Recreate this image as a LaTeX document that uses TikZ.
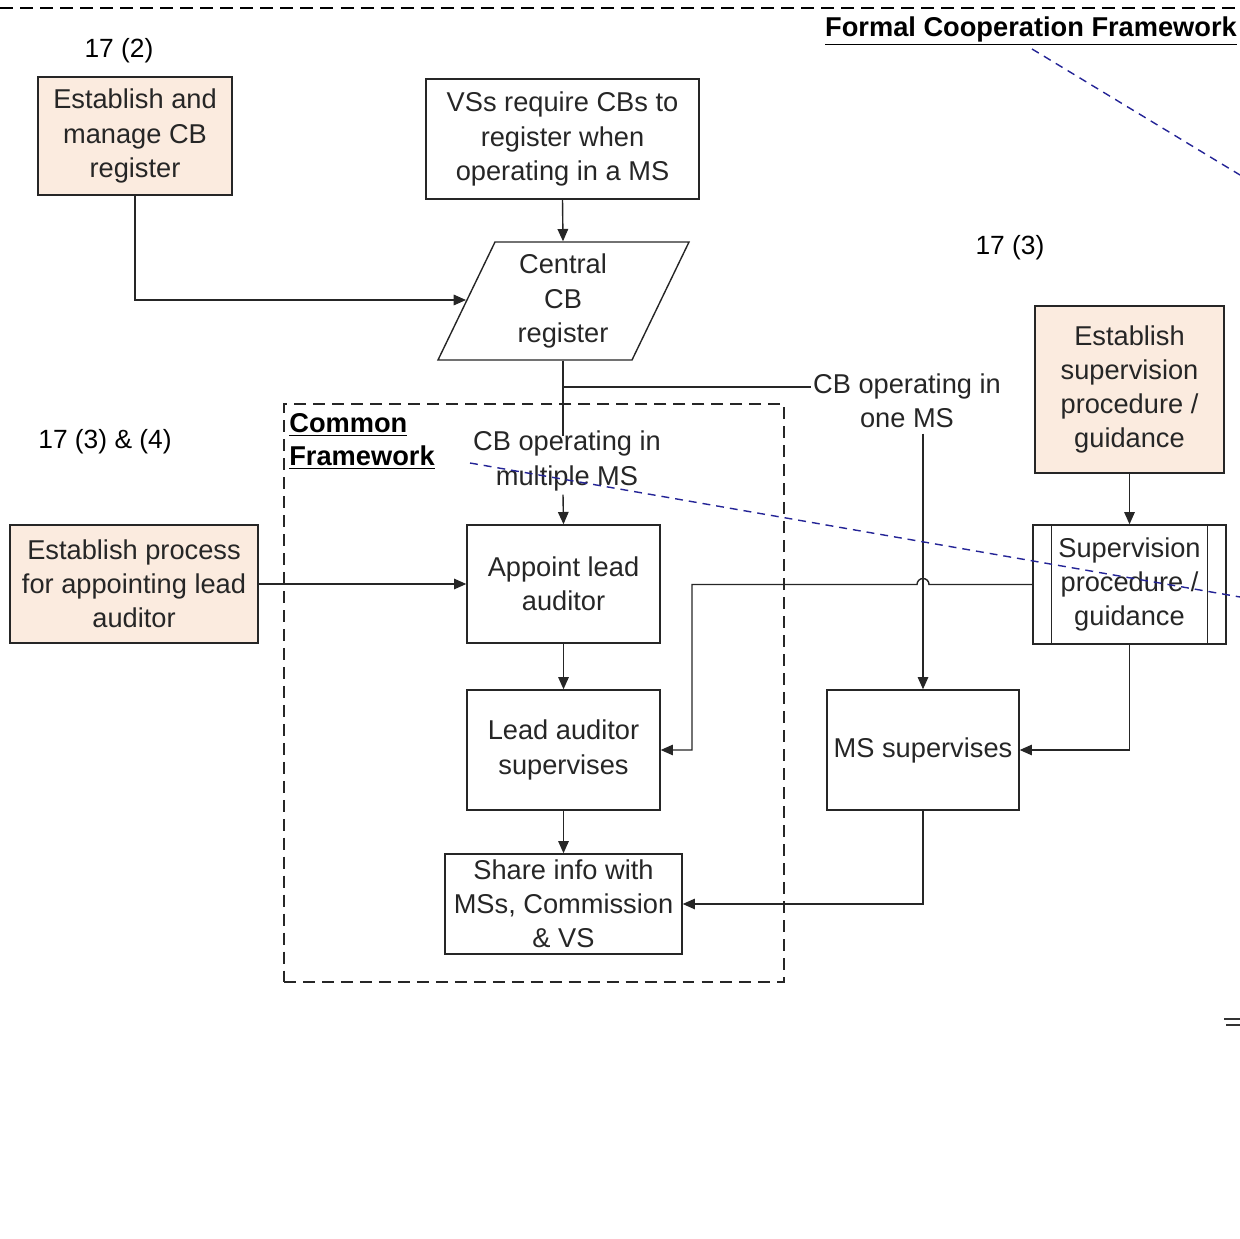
\documentclass[tikz,border=0pt]{standalone}
\usepackage{fontspec}
\setmainfont{Liberation Sans}
\usetikzlibrary{arrows.meta}

\definecolor{peach}{RGB}{251,235,223}
\definecolor{guideblue}{RGB}{36,36,150}

\tikzset{
  box/.style={draw=black!85, line width=0.8pt, text=black!85, align=center,
    inner sep=0pt, font=\fontsize{15.5}{19.5}\selectfont},
  peachbox/.style={box, fill=peach},
  branch/.style={text=black!85, align=center, inner sep=0pt, fill=white,
    font=\fontsize{15.5}{19.5}\selectfont},
  lbl/.style={text=black, inner sep=0pt, align=center, font=\fontsize{15}{19.5}\selectfont},
  head/.style={text=black, inner sep=0pt, align=left, font=\fontsize{15.5}{18.8}\selectfont\bfseries},
  flow/.style={line width=0.8pt, draw=black!85, -{Triangle[length=7pt,width=6pt]}},
  wire/.style={line width=0.8pt, draw=black!85},
  guide/.style={guideblue, line width=0.8pt, dash pattern=on 4.5pt off 3.4pt}
}

\begin{document}
\begin{tikzpicture}[x=0.02cm, y=-0.02cm]
\useasboundingbox (0,0) rectangle (1240,1239);

% frames
\draw[line width=0.8pt, dash pattern=on 7.4pt off 4pt] (0,8) -- (1240,8);
\node[draw=black!85, line width=0.8pt, dash pattern=on 6.8pt off 4pt,
      minimum width=10cm, minimum height=11.56cm] (common) at (534,693) {};
\node[head, anchor=center] (formal) at (1031,31) {\underline{Formal Cooperation Framework}};
\node[head, anchor=north west] (commonhead) at (289,413) {\underline{Common}\\\underline{Framework}};

% article labels
\node[lbl] (art2) at (119,51) {17 (2)};
\node[lbl] (art3) at (1010,248) {17 (3)};
\node[lbl] (art34) at (105,442) {17 (3) \& (4)};

% boxes
\node[peachbox, minimum width=3.88cm, minimum height=2.36cm] (estreg) at (135,136)
  {Establish and\\manage CB\\register};
\node[box, minimum width=5.46cm, minimum height=2.4cm] (vsreq) at (562.5,139)
  {VSs require CBs to\\register when\\operating in a MS};
\draw[wire] (438,360) -- (495,242) -- (689,242) -- (632,360) -- cycle;
\node[box, draw=none, minimum width=2.5cm, minimum height=2.36cm] (reg) at (563,301)
  {Central\\CB\\register};
\coordinate (regin) at (466,300);
\node[peachbox, minimum width=3.78cm, minimum height=3.34cm] (estsup) at (1129.5,389.5)
  {Establish\\supervision\\procedure /\\guidance};
\node[peachbox, minimum width=4.96cm, minimum height=2.36cm] (process) at (134,584)
  {Establish process\\for appointing lead\\auditor};
\node[box, minimum width=3.86cm, minimum height=2.36cm] (appoint) at (563.5,584)
  {Appoint lead\\auditor};
\node[box, minimum width=3.86cm, minimum height=2.4cm] (lead) at (563.5,750)
  {Lead auditor\\supervises};
\node[box, minimum width=4.74cm, minimum height=2cm] (share) at (563.5,904)
  {Share info with\\MSs, Commission\\\& VS};
\node[box, minimum width=3.86cm, minimum height=2.38cm] (sup) at (1129.5,584.5)
  {Supervision\\procedure /\\guidance};
\draw[wire] ([xshift=0.38cm]sup.north west) -- ([xshift=0.38cm]sup.south west);
\draw[wire] ([xshift=-0.38cm]sup.north east) -- ([xshift=-0.38cm]sup.south east);
\node[box, minimum width=3.84cm, minimum height=2.4cm] (ms) at (923,750)
  {MS supervises};

% branch labels
\node[branch] (onems) at (907,401) {CB operating in\\one MS};
\node[branch] (multi) at (567,461) {CB operating in\\multiple MS};
\coordinate (split) at (563,387);
\coordinate (turn) at (692,584);

% connectors
\draw[flow] (estreg.south) |- (regin);
\draw[flow] (vsreq.south) -- (reg.north);
\draw[wire] (reg.south) -- ([yshift=-3pt]reg.south |- multi.north);
\draw[wire] (split) -- ([xshift=-1pt]split -| onems.west);
\draw[flow] ([yshift=-3pt]ms.north |- onems.south) -- (ms.north);
\draw[flow] ([yshift=-2pt]reg.south |- multi.south) -- (appoint.north);
\draw[flow] (process.east) -- (appoint.west);
\draw[flow] (appoint.south) -- (lead.north);
\draw[flow] (lead.south) -- (share.north);
\draw[flow] (estsup.south) -- (sup.north);
\draw[flow] (sup.west) -- ([xshift=0.12cm]ms.north |- sup.west) arc (0:180:0.12cm)
  -- (turn |- sup.west) |- (lead.east);
\draw[flow] (sup.south) |- (ms.east);
\draw[flow] (ms.south) |- (share.east);

% guide lines
\draw[guide] (1032,49) -- (1240,175);
\draw[guide] (470,463) -- (1240,597);

% edge marks
\draw[line width=0.8pt, black!80] (1224,1019) -- (1240,1019);
\draw[line width=0.8pt, black!80] (1226,1025) -- (1240,1025);
\end{tikzpicture}
\end{document}
